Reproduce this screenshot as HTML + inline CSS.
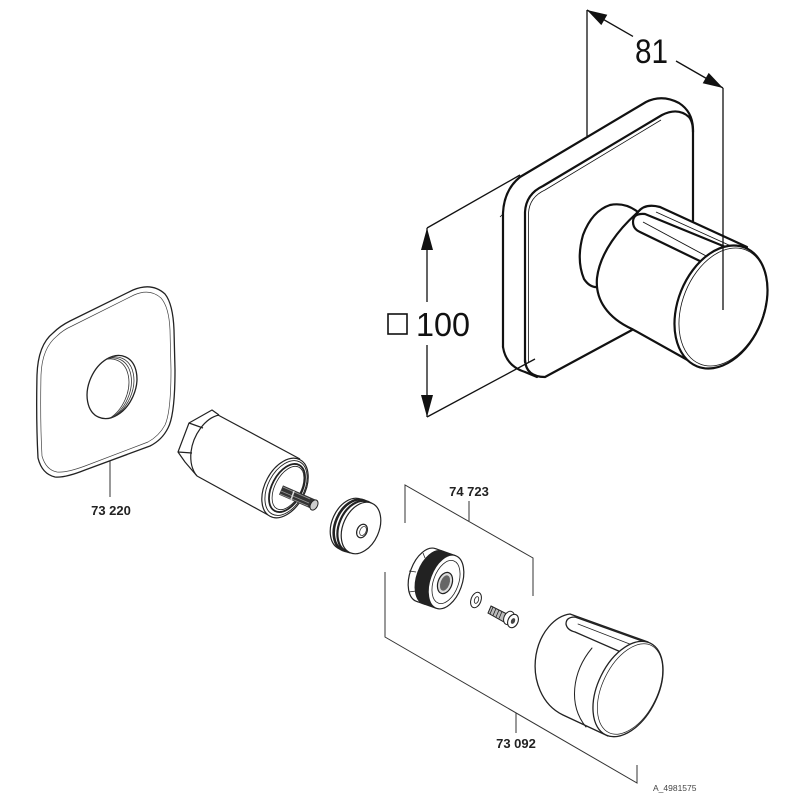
<!DOCTYPE html>
<html>
<head>
<meta charset="utf-8">
<style>
html,body{margin:0;padding:0;background:#fff;}
svg{display:block;}
text{font-family:"Liberation Sans",Arial,sans-serif;}
</style>
</head>
<body>
<svg width="800" height="800" viewBox="0 0 800 800" xmlns="http://www.w3.org/2000/svg">
<defs>
  <clipPath id="holeClip"><ellipse cx="112" cy="387" rx="23" ry="33" transform="rotate(24 112 387)"/></clipPath>
</defs>
<rect width="800" height="800" fill="#fff"/>

<!-- ================= TOP ASSEMBLY ================= -->
<g stroke="#111" stroke-width="1.3" fill="none">
  <line x1="587" y1="10" x2="587" y2="136"/>
  <line x1="587" y1="10" x2="633" y2="36.4"/>
  <line x1="676" y1="61" x2="723" y2="88"/>
  <line x1="427" y1="228" x2="427" y2="302"/>
  <line x1="427" y1="345" x2="427" y2="417"/>
  <line x1="427" y1="228" x2="520" y2="175"/>
  <line x1="427" y1="417" x2="535" y2="359"/>
</g>
<g fill="#111" stroke="none">
  <polygon points="587,10 601.3,25.1 607.3,14.7"/>
  <polygon points="723,88 702.7,83.3 708.7,72.9"/>
  <polygon points="427,228 421,250 433,250"/>
  <polygon points="427,417 421,395 433,395"/>
</g>
<text x="635" y="63" font-size="34" fill="#111" textLength="33" lengthAdjust="spacingAndGlyphs">81</text>
<rect x="388" y="314" width="19" height="20" fill="none" stroke="#111" stroke-width="1.6"/>
<text x="416" y="336" font-size="33" fill="#111" textLength="54" lengthAdjust="spacingAndGlyphs">100</text>

<!-- plate -->
<g stroke="#111" stroke-width="2.2" fill="none" stroke-linejoin="round" stroke-linecap="round">
  <path d="M503,347 L503,213 Q504,190 520,177 L646,102 Q662,94 679,103 Q693,112 693,130 L693,221" fill="#fff"/>
  <path d="M503,347 Q506,366 525,372 L537,377"/>
  <path d="M525,362 L525,212 Q526,194 543,186 L662,115 Q678,107 689,117 Q693,122 693,132"/>
  <path d="M525,360 Q526,377 545,377 L632,330"/>
</g>
<g stroke="#111" stroke-width="0.8" fill="none">
  <path d="M528.5,362 L528.5,213 Q529.5,197 545,190 L661,120"/>
  <line x1="500" y1="217" x2="503" y2="214"/>
</g>

<!-- top knob -->
<g stroke="#111" stroke-width="2.2" fill="#fff" stroke-linejoin="round" stroke-linecap="round">
  <path d="M638,212 Q625,202 610,205 Q592,211 583,235 Q576,260 584,279 Q590,288 598,287"/>
  <path d="M638,212 C620,228 600,252 597,278 C595,300 608,318 632,329 L700,367 L747,247 L660,207 Q645,203 638,212 Z" stroke="none"/>
  <path d="M638,212 C620,228 600,252 597,278 C595,300 608,318 632,329 L700,367" fill="none"/>
  <path d="M638,212 Q645,203 660,207 L747,247" fill="none"/>
  <path d="M728,248 L645,214 Q633,213 633,222 Q633,229 640,232 L706,264" fill="none"/>
</g>
<g stroke="#111" stroke-width="0.9" fill="none">
  <line x1="643" y1="222" x2="708" y2="257"/>
  <line x1="656" y1="212" x2="742" y2="251"/>
</g>
<ellipse cx="721" cy="307" rx="43" ry="64" transform="rotate(22 721 307)" fill="#fff" stroke="#111" stroke-width="2.2"/>
<ellipse cx="723" cy="307" rx="40.5" ry="61.5" transform="rotate(22 723 307)" fill="none" stroke="#111" stroke-width="0.8"/>
<line x1="723" y1="88" x2="723" y2="310" stroke="#111" stroke-width="1.3"/>

<!-- ================= ESCUTCHEON 73 220 ================= -->
<g stroke="#222" stroke-width="1.3" fill="#fff" stroke-linejoin="round">
  <path d="M53,333 Q60,326 70,321 L133,290 Q152,282 165,294 Q173,304 174,330 L175,370 Q175,415 168,428 Q162,440 150,446 L85,470 Q65,478 55,477 Q42,474 38,458 Q36,420 37,375 Q38,345 53,333 Z"/>
</g>
<path d="M57,336 Q63,330 72,326 L134,295 Q150,288 161,298 Q169,307 170,330 L171,370 Q171,412 165,425 Q159,436 148,442 L85,466 Q66,473 57,472 Q46,470 42,456 Q40,420 41,375 Q42,348 57,336 Z" fill="none" stroke="#444" stroke-width="0.7"/>
<ellipse cx="112" cy="387" rx="23" ry="33" transform="rotate(24 112 387)" fill="#fff" stroke="#222" stroke-width="1.3"/>
<g clip-path="url(#holeClip)" fill="none" stroke="#333" stroke-width="0.8">
  <ellipse cx="109" cy="388.5" rx="23" ry="33" transform="rotate(24 109 388.5)"/>
  <ellipse cx="106.5" cy="389.5" rx="23" ry="33" transform="rotate(24 106.5 389.5)"/>
  <ellipse cx="104" cy="390.5" rx="23" ry="33" transform="rotate(24 104 390.5)"/>
</g>
<line x1="110" y1="461" x2="110" y2="497" stroke="#333" stroke-width="1"/>
<text x="111" y="515" font-size="13" font-weight="bold" fill="#222" text-anchor="middle">73 220</text>

<!-- ================= CARTRIDGE ================= -->
<g stroke="#222" stroke-width="1.2" fill="#fff" stroke-linejoin="round">
  <path d="M212,410 L219,415 L300,458 L270,516 L197,476 L185,462 L178,452 L189,423 Z" stroke="none"/>
  <path d="M219,415 L212,410 L189,423 L178,452 L185,462 L197,476" fill="none"/>
  <line x1="189" y1="423" x2="203" y2="428"/>
  <line x1="178" y1="452" x2="192" y2="453"/>
  <path d="M219,415 C205,418 193,435 191,452 C190,462 192,470 197,476" fill="none"/>
  <line x1="218" y1="415" x2="300" y2="459"/>
  <line x1="197" y1="476" x2="270" y2="516"/>
  <ellipse cx="285" cy="488" rx="20" ry="32" transform="rotate(28 285 488)"/>
  <ellipse cx="286" cy="488" rx="18" ry="29.5" transform="rotate(28 286 488)" fill="none" stroke-width="0.9"/>
  <ellipse cx="287" cy="488" rx="15" ry="26" transform="rotate(28 287 488)" fill="none" stroke-width="1.8"/>
  <ellipse cx="288" cy="488" rx="13" ry="23.5" transform="rotate(28 288 488)" fill="none" stroke-width="0.8"/>
</g>
<!-- spindle -->
<line x1="281" y1="490" x2="313" y2="504" stroke="#333" stroke-width="10"/>
<g stroke="#999" stroke-width="0.7">
  <line x1="283" y1="487" x2="310" y2="499"/>
  <line x1="281" y1="491" x2="309" y2="503"/>
  <line x1="280" y1="494" x2="308" y2="506"/>
</g>
<line x1="294" y1="491" x2="291" y2="500" stroke="#ddd" stroke-width="1.5"/>
<ellipse cx="314" cy="505" rx="3.5" ry="5.5" transform="rotate(28 314 505)" fill="#ccc" stroke="#222" stroke-width="1"/>

<!-- ================= DISC ================= -->
<g stroke="#222" stroke-width="1.2">
  <ellipse cx="350" cy="524" rx="18" ry="27" transform="rotate(24 350 524)" fill="#fff"/>
  <polygon points="360.2,499 371.2,503 350.8,553 339.8,549" fill="#fff" stroke="none"/>
  <ellipse cx="353.5" cy="525.3" rx="18" ry="27" transform="rotate(24 353.5 525.3)" fill="none" stroke-width="2.6"/>
  <ellipse cx="357.2" cy="526.6" rx="18" ry="27" transform="rotate(24 357.2 526.6)" fill="none" stroke-width="2.2"/>
  <line x1="360.2" y1="499" x2="371.2" y2="503"/>
  <line x1="339.8" y1="549" x2="350.8" y2="553"/>
  <ellipse cx="361" cy="528" rx="18" ry="27" transform="rotate(24 361 528)" fill="#fff"/>
  <ellipse cx="362" cy="531" rx="5" ry="7" transform="rotate(24 362 531)" fill="#fff"/>
  <ellipse cx="363" cy="531" rx="3" ry="4.8" transform="rotate(24 363 531)" fill="none" stroke-width="0.7"/>
</g>

<!-- ================= BRACKETS ================= -->
<g stroke="#333" stroke-width="1" fill="none">
  <polyline points="405,523 405,485 533,558 533,596"/>
  <line x1="469" y1="521" x2="469" y2="501"/>
  <polyline points="385,572 385,637 637,783 637,765"/>
  <line x1="516" y1="713" x2="516" y2="733"/>
</g>
<text x="469" y="496" font-size="13" font-weight="bold" fill="#222" text-anchor="middle">74 723</text>
<text x="516" y="748" font-size="13" font-weight="bold" fill="#222" text-anchor="middle">73 092</text>
<text x="653" y="791" font-size="8.5" fill="#444">A_4981575</text>

<!-- ================= NUT ================= -->
<g stroke="#222" stroke-width="1.2">
  <ellipse cx="426" cy="575" rx="16" ry="28" transform="rotate(20 426 575)" fill="#fff"/>
  <polygon points="435.6,548.7 455.6,555.7 436.4,608.3 416.4,601.3" fill="#fff" stroke="none"/>
  <line x1="435.6" y1="548.7" x2="455.6" y2="555.7"/>
  <line x1="416.4" y1="601.3" x2="436.4" y2="608.3"/>
  <ellipse cx="433" cy="577.5" rx="16" ry="28" transform="rotate(20 433 577.5)" fill="#222"/>
  <polygon points="442.6,551.2 455.6,555.7 436.4,608.3 423.4,603.8" fill="#222" stroke="none"/>
  <ellipse cx="446" cy="582" rx="16" ry="28" transform="rotate(20 446 582)" fill="#fff"/>
  <ellipse cx="446" cy="582" rx="12.5" ry="22.5" transform="rotate(20 446 582)" fill="none" stroke-width="0.8"/>
  <ellipse cx="445" cy="583" rx="7" ry="11" transform="rotate(20 445 583)" fill="#ddd"/>
  <ellipse cx="445" cy="583" rx="4.5" ry="8" transform="rotate(20 445 583)" fill="#666" stroke="none"/>
</g>
<g stroke="#222" stroke-width="0.8">
  <line x1="409" y1="571" x2="416" y2="572"/>
  <line x1="409" y1="592" x2="416" y2="591"/>
  <line x1="423" y1="553" x2="425" y2="558"/>
</g>

<!-- washer -->
<ellipse cx="476" cy="600" rx="5" ry="8" transform="rotate(20 476 600)" fill="#fff" stroke="#222" stroke-width="1"/>
<ellipse cx="476.5" cy="600" rx="2" ry="3.5" transform="rotate(20 476.5 600)" fill="#fff" stroke="#222" stroke-width="0.8"/>

<!-- screw -->
<path d="M491,606 L507,614 L504,622 L488,613 Z" fill="#bbb" stroke="#222" stroke-width="1"/>
<g stroke="#222" stroke-width="0.8">
  <line x1="493" y1="607" x2="490" y2="614"/>
  <line x1="496" y1="608.5" x2="493" y2="615.5"/>
  <line x1="499" y1="610" x2="496" y2="617"/>
  <line x1="502" y1="611.5" x2="499" y2="618.5"/>
</g>
<ellipse cx="509" cy="618" rx="5" ry="7" transform="rotate(25 509 618)" fill="#fff" stroke="#222" stroke-width="1"/>
<polygon points="513,614 515,615 511,627 508,625" fill="#fff"/>
<ellipse cx="513" cy="621" rx="5" ry="7" transform="rotate(25 513 621)" fill="#fff" stroke="#222" stroke-width="1.1"/>
<ellipse cx="513" cy="621" rx="2" ry="3" transform="rotate(25 513 621)" fill="#444"/>

<!-- ================= KNOB 73 092 ================= -->
<g stroke="#222" stroke-width="1.3" stroke-linejoin="round" stroke-linecap="round">
  <path d="M648,642 L570,614 C555,616 540,632 536,655 C532,680 542,705 563,715 L608,736 Z" fill="#fff" stroke="none"/>
  <path d="M648,642 L570,614 C555,616 540,632 536,655 C532,680 542,705 563,715 L608,736" fill="none"/>
  <path d="M645,642 L575,617 Q566,617 566,624 Q567,630 575,632 L630,656" fill="none"/>
  <line x1="578" y1="624" x2="640" y2="648" stroke-width="0.8"/>
  <path d="M592,648 C572,672 568,705 586,727" fill="none" stroke-width="1"/>
  <ellipse cx="628" cy="689" rx="30" ry="51" transform="rotate(26 628 689)" fill="#fff"/>
  <ellipse cx="630" cy="689" rx="27.5" ry="48.5" transform="rotate(26 630 689)" fill="none" stroke-width="0.7"/>
</g>
</svg>
</body>
</html>
